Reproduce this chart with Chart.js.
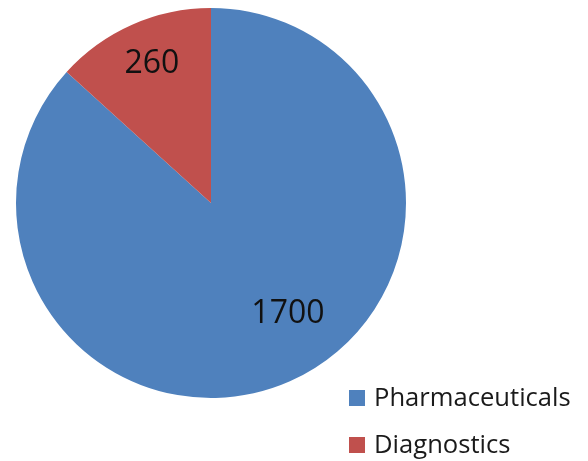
<!DOCTYPE html>
<html>
<head>
<meta charset="utf-8">
<style>
  html, body { margin: 0; padding: 0; background: #ffffff; }
  #wrap { width: 588px; height: 461px; }
</style>
<script src="https://cdn.jsdelivr.net/npm/chart.js@4.4.1/dist/chart.umd.min.js"></script>
</head>
<body>
<div id="wrap"><canvas id="c" width="588" height="461"></canvas></div>
<script>
const categories = ['Pharmaceuticals', 'Diagnostics'];
const values = [1700, 260];
const colors = ['#4F81BD', '#C0504D'];

// label placement styling (radius fraction, angle shift in degrees)
const labelStyle = [
  { r: 0.69, shift: -11 },
  { r: 0.78, shift: 1 }
];

const FONT = '"Open Sans", "DejaVu Sans", sans-serif';

const dataLabels = {
  id: 'dataLabels',
  afterDatasetsDraw(chart) {
    const ctx = chart.ctx;
    const meta = chart.getDatasetMeta(0);
    ctx.save();
    ctx.font = '32px ' + FONT;
    ctx.fillStyle = '#111111';
    ctx.textAlign = 'center';
    ctx.textBaseline = 'middle';
    meta.data.forEach((arc, i) => {
      const p = arc.getProps(['x', 'y', 'startAngle', 'endAngle', 'outerRadius'], true);
      const mid = (p.startAngle + p.endAngle) / 2 + labelStyle[i].shift * Math.PI / 180;
      const rr = p.outerRadius * labelStyle[i].r;
      const x = p.x + Math.cos(mid) * rr;
      const y = p.y + Math.sin(mid) * rr;
      ctx.fillText(String(chart.data.datasets[0].data[i]), x, y + 1);
    });
    ctx.restore();
  }
};

const sideLegend = {
  id: 'sideLegend',
  afterDraw(chart) {
    const ctx = chart.ctx;
    ctx.save();
    ctx.font = '25.6px ' + FONT;
    ctx.textAlign = 'left';
    ctx.textBaseline = 'middle';
    const boxX = 349, box = 16, textX = 374;
    const rows = [398, 445];
    chart.data.labels.forEach((lab, i) => {
      ctx.fillStyle = chart.data.datasets[0].backgroundColor[i];
      ctx.fillRect(boxX, rows[i] - box / 2, box, box);
      ctx.fillStyle = '#1a1a1a';
      ctx.fillText(lab, textX, rows[i] + 1);
    });
    ctx.restore();
  }
};

new Chart(document.getElementById('c'), {
  type: 'pie',
  data: {
    labels: categories,
    datasets: [{
      data: values,
      backgroundColor: colors,
      borderWidth: 0
    }]
  },
  options: {
    responsive: false,
    animation: false,
    layout: { padding: { left: 16, top: 8, right: 182, bottom: 63 } },
    plugins: {
      legend: { display: false },
      tooltip: { enabled: false }
    }
  },
  plugins: [dataLabels, sideLegend]
});
</script>
</body>
</html>
